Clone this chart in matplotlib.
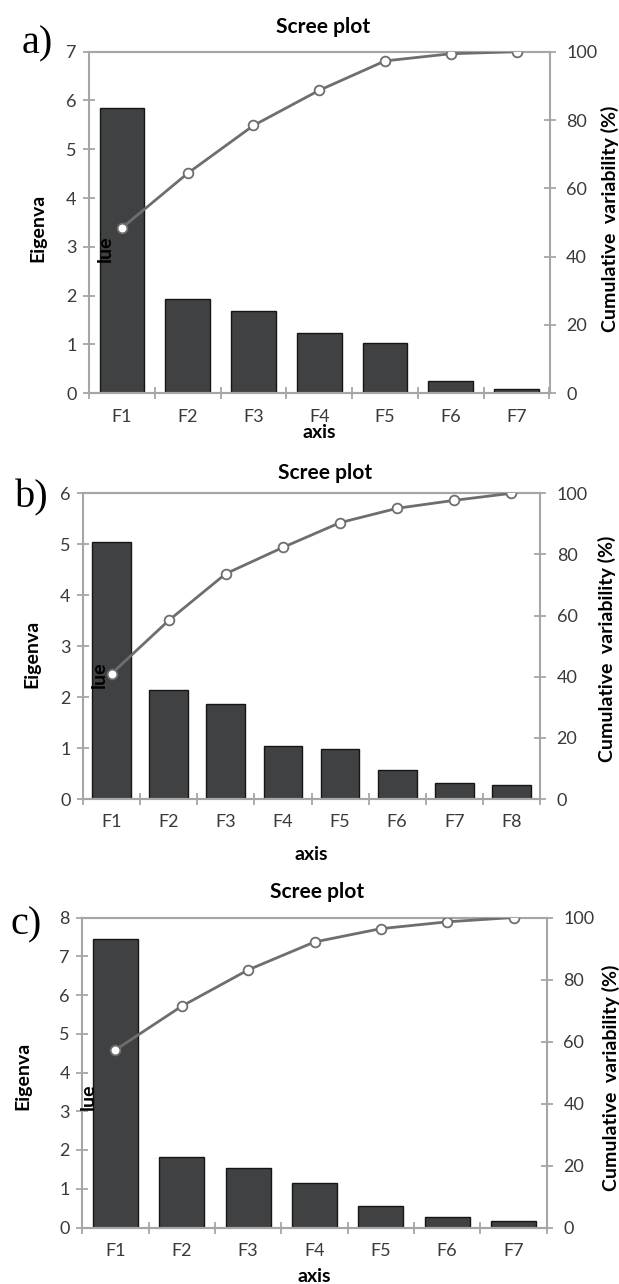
import matplotlib
matplotlib.use("Agg")
import matplotlib.pyplot as plt
from matplotlib.ticker import MultipleLocator, FixedLocator

# values
eig_a = [5.84, 1.93, 1.69, 1.24, 1.04, 0.25, 0.08]
cum_a = [48.4, 64.4, 78.4, 88.7, 97.3, 99.4, 100]
eig_b = [5.05, 2.14, 1.87, 1.05, 0.99, 0.57, 0.31, 0.28]
cum_b = [41.0, 58.4, 73.7, 82.3, 90.4, 95.1, 97.7, 100]
eig_c = [7.45, 1.82, 1.53, 1.16, 0.56, 0.28, 0.17]
cum_c = [57.3, 71.4, 83.1, 92.1, 96.4, 98.6, 100]

W, H = 619, 1284
plt.rcParams['font.family'] = ['Lato', 'DejaVu Sans']

AX_COL = '#a6a6a6'
TXT_COL = '#3a3a3a'
TICK_FS = 13
LAB_FS = 14


def fx(x):
    return x / W


def fy(y):
    return 1 - y / H


def draw_panel(fig, eig, cum, ymax, box, txt):
    left, right, top, bottom = box
    n = len(eig)
    cats = ['F%d' % (i + 1) for i in range(n)]
    ax = fig.add_axes([fx(left), fy(bottom), (right - left) / W, (bottom - top) / H])
    xs = list(range(n))
    ax.bar(xs, eig, width=0.68, color='#404142', edgecolor='#151515', linewidth=1.0, zorder=2)
    ax.set_xlim(-0.5, n - 0.5)
    ax.set_ylim(0, ymax)
    ax.yaxis.set_major_locator(MultipleLocator(1))
    ax.set_xticks(xs)
    ax.set_xticklabels(cats)
    ax.xaxis.set_minor_locator(FixedLocator([i - 0.5 for i in range(n + 1)]))
    ax.tick_params(axis='x', which='major', length=0, pad=11, labelsize=TICK_FS, labelcolor=TXT_COL)
    ax.tick_params(axis='x', which='minor', length=8, direction='inout', width=1.3, color=AX_COL)
    ax.tick_params(axis='y', length=8, direction='inout', width=1.3, color=AX_COL,
                   labelsize=TICK_FS, labelcolor=TXT_COL, pad=5)
    for s in ax.spines.values():
        s.set_color(AX_COL)
        s.set_linewidth(1.5)
    ax.spines['right'].set_visible(False)

    ax2 = ax.twinx()
    ax2.plot(xs, cum, color='#6e6e6e', linewidth=2.0, marker='o', markersize=7,
             markerfacecolor='white', markeredgecolor='#6e6e6e', markeredgewidth=1.3, zorder=3)
    ax2.set_ylim(0, 100)
    ax2.yaxis.set_major_locator(MultipleLocator(20))
    ax2.tick_params(axis='y', length=8, direction='inout', width=1.3, color=AX_COL,
                    labelsize=TICK_FS, labelcolor=TXT_COL, pad=8)
    for s in ax2.spines.values():
        s.set_color(AX_COL)
        s.set_linewidth(1.5)
    ax2.spines['left'].set_visible(False)

    fig.text(fx(txt['title'][0]), fy(txt['title'][1]), 'Scree plot', ha='center', va='center',
             fontsize=15, fontweight='bold')
    fig.text(fx((left + right) / 2), fy(txt['axis']), 'axis', ha='center', va='center',
             fontsize=LAB_FS, fontweight='bold')
    fig.text(fx(txt['eig'][0]), fy(txt['eig'][1]), 'Eigenva', ha='center', va='bottom',
             rotation=90, fontsize=LAB_FS, fontweight='bold')
    fig.text(fx(txt['lue'][0]), fy(txt['eig'][1]), 'lue', ha='center', va='bottom',
             rotation=90, fontsize=LAB_FS, fontweight='bold', zorder=10)
    fig.text(fx(txt['cum'][0]), fy(txt['cum'][1]), 'Cumulative  variability (%)', ha='center',
             va='center', rotation=90, fontsize=LAB_FS, fontweight='bold')
    fig.text(fx(txt['tag'][0]), fy(txt['tag'][1]), txt['tag'][2], ha='center', va='center',
             fontsize=29, family='Liberation Serif')
    return ax, ax2


fig = plt.figure(figsize=(W / 100, H / 100), dpi=100)

draw_panel(fig, eig_a, cum_a, 7, (89, 549.5, 51.7, 393.3),
           {'title': (323, 27), 'axis': 433, 'eig': (38, 262), 'lue': (105,),
            'cum': (610, 219), 'tag': (37, 44, 'a)')})
draw_panel(fig, eig_b, cum_b, 6, (83, 540, 493.3, 799),
           {'title': (325, 473), 'axis': 855, 'eig': (32, 688), 'lue': (99,),
            'cum': (607, 649), 'tag': (32, 498, 'b)')})
draw_panel(fig, eig_c, cum_c, 8, (82.3, 546.7, 917.5, 1227.5),
           {'title': (317, 892), 'axis': 1277, 'eig': (23, 1110), 'lue': (88,),
            'cum': (611, 1078), 'tag': (26, 925, 'c)')})

fig.savefig('out.png', dpi=100)
